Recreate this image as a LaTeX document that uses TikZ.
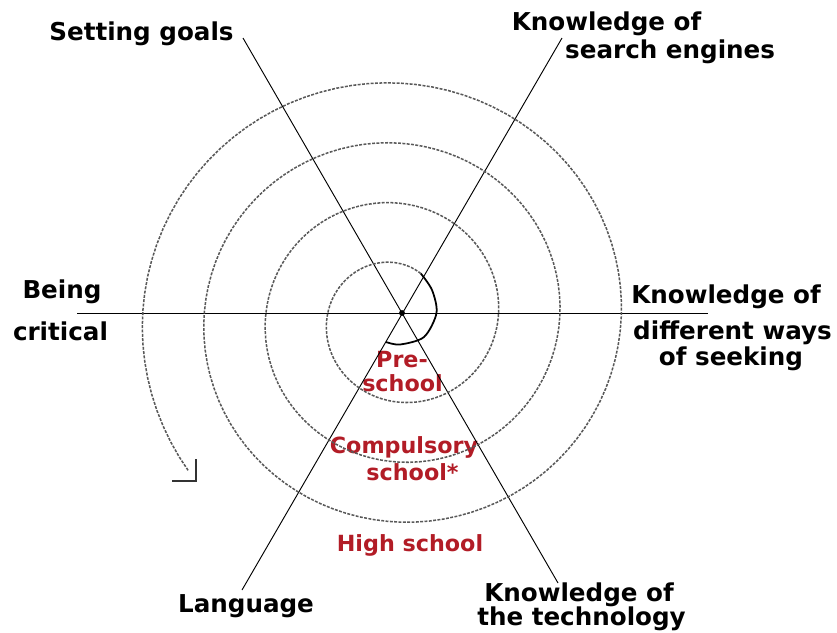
\documentclass[tikz,border=0pt]{standalone}
\usepackage{fontspec}
\setmainfont{DejaVu Sans}
\usepackage{tikz}
\definecolor{schoolred}{RGB}{178,28,38}

\begin{document}
\begin{tikzpicture}[x=0.03cm,y=-0.03cm,
    txt/.style={anchor=base,inner sep=0pt,font=\fontsize{21}{25}\selectfont\bfseries},
    level/.style={anchor=base,inner sep=0pt,text=schoolred,font=\fontsize{19}{22}\selectfont\bfseries},
    axis/.style={black,line width=0.8pt},
    ring/.style={black!65,line width=1.3pt,dash pattern=on 2.5pt off 1.2pt}]
        \useasboundingbox (0,0) rectangle (837,632);

        % Label the directions
        \node[txt] (goals) at (141.5,40) {Setting goals};
        \node[txt] (searchA) at (606.5,30) {Knowledge of};
        \node[txt,anchor=base west] (searchB) at (565,58) {search engines};
        \node[txt] (being) at (62,298) {Being};
        \node[txt] (critical) at (60.5,340) {critical};
        \node[txt] (waysA) at (726,303) {Knowledge of};
        \node[txt] (waysB) at (732.5,339) {different ways};
        \node[txt] (waysC) at (731,365) {of seeking};
        \node[txt] (language) at (246,612) {Language};
        \node[txt] (techA) at (579,601) {Knowledge of};
        \node[txt] (techB) at (581.5,625) {the technology};

        % Label the school levels
        \node[level] (preA) at (402,367) {Pre-};
        \node[level] (preB) at (402.5,391) {school};
        \node[level] (compA) at (404,453) {Compulsory};
        \node[level] (compB) at (412.5,480) {school*};
        \node[level] (high) at (410,551) {High school};

        % Draw the axes
        \coordinate (mid) at (402,313);
        \coordinate (westEnd) at (77,313);
        \coordinate (eastEnd) at (708,313);
        \coordinate (goalsEnd) at (243,38);
        \coordinate (techEnd) at (558,583);
        \coordinate (searchEnd) at (562,38);
        \coordinate (langEnd) at (242,590);
        \draw[axis] (westEnd) -- (eastEnd);
        \draw[axis] (goalsEnd) -- (techEnd);
        \draw[axis] (searchEnd) -- (langEnd);
        \fill (mid) circle (2.5pt);

        % Draw the spiral
        \draw[line width=1.5pt] plot[smooth] coordinates
            {(386,342) (400,344.5) (424,337) (436.5,313) (432,290) (420.8,273.5)};
        \draw[ring] plot[domain=62:1297,samples=320,variable=\t]
            ({397.25+(39.5+\t/360*61.5)*cos(\t)},{317.5-(39.5+\t/360*60)*sin(\t)});
        \draw[black!80,line width=1.3pt] (172,481) -- (196,481) -- (196,459);
    \end{tikzpicture}
\end{document}
